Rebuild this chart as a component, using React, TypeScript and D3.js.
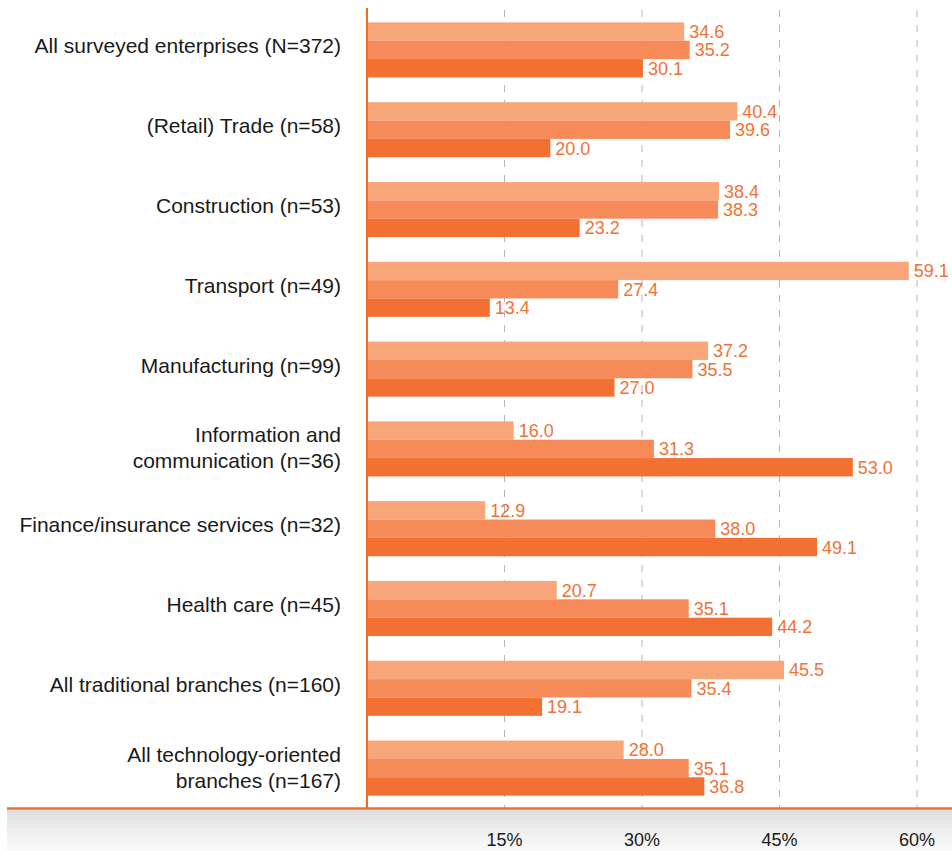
import React from "react";
import * as d3 from "d3";

const categories: string[][] = [
  ["All surveyed enterprises (N=372)"],
  ["(Retail) Trade (n=58)"],
  ["Construction (n=53)"],
  ["Transport (n=49)"],
  ["Manufacturing (n=99)"],
  ["Information and", "communication (n=36)"],
  ["Finance/insurance services (n=32)"],
  ["Health care (n=45)"],
  ["All traditional branches (n=160)"],
  ["All technology-oriented", "branches (n=167)"],
];
const series1 = [34.6, 40.4, 38.4, 59.1, 37.2, 16.0, 12.9, 20.7, 45.5, 28.0];
const series2 = [35.2, 39.6, 38.3, 27.4, 35.5, 31.3, 38.0, 35.1, 35.4, 35.1];
const series3 = [30.1, 20.0, 23.2, 13.4, 27.0, 53.0, 49.1, 44.2, 19.1, 36.8];
const tickValues = [15, 30, 45, 60];
const tickLabels = ["15%", "30%", "45%", "60%"];

const colors = ["#F7A579", "#F68A58", "#F27031"];
const labelColor = "#F07236";
const axisColor = "#F06A2A";

export default function App() {
  const W = 952, H = 851;
  const x0 = 367;
  const top = 10, bottom = 808;
  const x = d3.scaleLinear().domain([0, 60]).range([x0, 917]);
  const idx = categories.map((_, i) => String(i));
  const y = d3.scaleBand().domain(idx).range([top, bottom]).paddingInner(0.31).paddingOuter(0.155);
  const bw = y.bandwidth();
  const inner = d3.scaleBand().domain(["0", "1", "2"]).range([0, bw]).padding(0);
  const sers = [series1, series2, series3];
  const font = "'Liberation Sans', Arial, Helvetica, sans-serif";

  return (
    <svg width={W} height={H} style={{ position: "absolute", left: 0, top: 0 }} fontFamily={font}>
      <defs>
        <linearGradient id="band" x1="0" y1="0" x2="0" y2="1">
          <stop offset="0" stopColor="#dedede" />
          <stop offset="0.5" stopColor="#eeeeee" />
          <stop offset="1" stopColor="#f9f9f9" />
        </linearGradient>
      </defs>
      <rect x={0} y={0} width={W} height={H} fill="#fff" />
      <rect x={7} y={bottom + 2} width={W - 7} height={H - bottom - 2} fill="url(#band)" />
      {tickValues.map((t) => (
        <line key={t} x1={x(t)} x2={x(t)} y1={top} y2={bottom} stroke="#b5b5b5" strokeWidth={1} strokeDasharray="7,8" />
      ))}
      {sers.map((s, si) =>
        s.map((v, i) => {
          const yy = (y(String(i)) as number) + (inner(String(si)) as number);
          const h = inner.bandwidth();
          return (
            <g key={si + "-" + i}>
              <rect x={x0} y={yy} width={x(v) - x0} height={h} fill={colors[si]} />
              <text x={x(v) + 5} y={yy + h / 2} dy="0.36em" fontSize={18} fill={labelColor}>
                {v.toFixed(1)}
              </text>
            </g>
          );
        })
      )}
      {categories.map((lines, i) => {
        const n = lines.length;
        const cy = (y(String(i)) as number) + bw / 2 + (n === 1 ? -4 : -1);
        return (
          <text key={i} x={341} textAnchor="end" fontSize={21} fill="#1a1a1a">
            {lines.map((l, j) => (
              <tspan key={j} x={341} y={cy + (j - (n - 1) / 2) * 26} dy="0.36em">
                {l}
              </tspan>
            ))}
          </text>
        );
      })}
      <line x1={x0} x2={x0} y1={8} y2={bottom} stroke={axisColor} strokeWidth={2} />
      <line x1={7} x2={W} y1={bottom + 0.5} y2={bottom + 0.5} stroke={axisColor} strokeWidth={2.5} />
      {tickValues.map((t, i) => (
        <text key={t} x={x(t)} y={840} dy="0.36em" textAnchor="middle" fontSize={18} fill="#1a1a1a">
          {tickLabels[i]}
        </text>
      ))}
    </svg>
  );
}
